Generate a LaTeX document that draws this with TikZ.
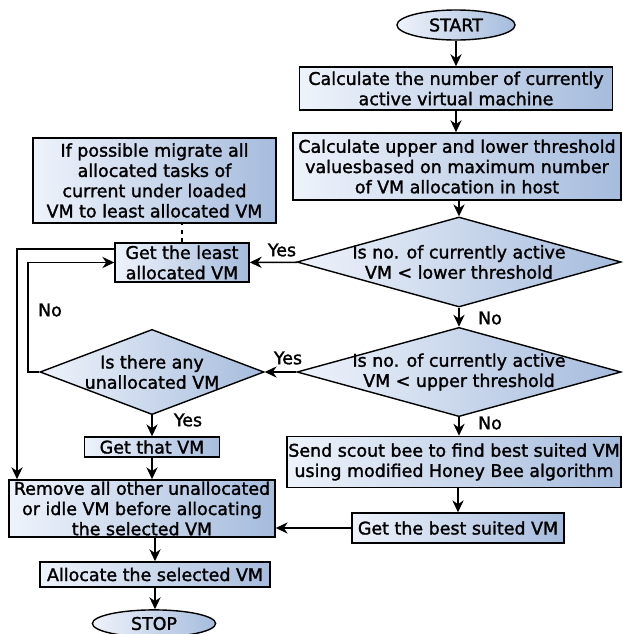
\documentclass[tikz,border=0pt]{standalone}
\usepackage{fontspec}
\setmainfont{DejaVu Sans}[RawFeature={embolden=1.6}]
\usetikzlibrary{arrows.meta}
\usetikzlibrary{shapes.geometric}
\definecolor{paleblue}{RGB}{238,243,251}
\definecolor{steelfill}{RGB}{166,188,221}

\begin{document}
\begin{tikzpicture}[x=0.025cm, y=-0.025cm,
    every node/.style={font=\fontsize{12.4}{14.4}\selectfont, align=center},
    procbox/.style={draw, line width=1pt, left color=paleblue, right color=steelfill, inner sep=0pt},
    decision/.style={procbox, diamond},
    terminal/.style={procbox, ellipse},
    flow/.style={line width=1pt, -{Stealth[length=8.5pt,width=8pt]}}]
  \useasboundingbox (0,0) rectangle (623,634);

  % Main column
  \node (start)[terminal, minimum width=2.95cm, minimum height=0.75cm] at (456,25) {START};
  \node (count)[procbox, minimum width=7.83cm, minimum height=1.08cm] at (456,88.5) {Calculate the number of currently\\active virtual machine};
  \node (thresh)[procbox, minimum width=8.2cm, minimum height=1.68cm] at (457,166.5) {Calculate upper and lower threshold\\valuesbased on maximum number\\of VM allocation in host};
  \node (lower)[decision, minimum width=8.1cm, minimum height=2.25cm,
    label={center:{Is no. of currently active\\VM < lower threshold}}] at (459,262) {};
  \node (upper)[decision, minimum width=8.1cm, minimum height=2.23cm,
    label={center:{Is no. of currently active\\VM < upper threshold}}] at (459,372) {};
  \node (scout)[procbox, minimum width=8.35cm, minimum height=1.28cm] at (454,462) {Send scout bee to find best suited VM\\using modified Honey Bee algorithm};
  \node (best)[procbox, minimum width=5.3cm, minimum height=0.75cm] at (458,528) {Get the best suited VM};

  % Left column
  \node (migrate)[procbox, minimum width=6.08cm, minimum height=2.13cm] at (154.5,180.5) {If possible migrate all\\allocated tasks of\\current under loaded\\VM to least allocated VM};
  \node (least)[procbox, minimum width=3.35cm, minimum height=0.98cm] at (182,262.5) {Get the least\\allocated VM};
  \node (any)[decision, minimum width=5.6cm, minimum height=2.13cm,
    label={center:{Is there any\\unallocated VM}}] at (152,372) {};
  \node (that)[procbox, minimum width=3.38cm, minimum height=0.5cm] at (152,447) {Get that VM};
  \node (remove)[procbox, minimum width=6.65cm, minimum height=1.43cm] at (142,508.5) {Remove all other unallocated\\or idle VM before allocating\\the selected VM};
  \node (alloc)[procbox, minimum width=5.75cm, minimum height=0.63cm] at (155,574.5) {Allocate the selected VM};
  \node (stop)[terminal, minimum width=3.08cm, minimum height=0.68cm] at (154,623.5) {STOP};

  % Branch labels
  \node (yes1) at (282,250) {Yes};
  \node (no1) at (490,318) {No};
  \node (yes2) at (288,358) {Yes};
  \node (no2) at (490,423) {No};
  \node (yes3) at (188,420) {Yes};
  \node (no3) at (50,310) {No};

  \draw[flow] (start) -- (start |- count.north);
  \draw[flow] (count) -- (count |- thresh.north);
  \draw[flow] (thresh.south -| lower) -- (lower.north);
  \draw[flow] (lower) -- (least);
  \draw[flow] (lower) -- (upper);
  \draw[flow] (upper) -- (any);
  \draw[flow] (upper.south) -- (upper.south |- scout.north);
  \draw[flow] (scout.south -| best) -- (best.north);
  \draw[flow] (best) -- (best -| remove.east);
  \draw[flow] (any) -- (any |- that.north);
  \draw[flow] (that) -- (that |- remove.north);
  \draw[flow] (alloc |- remove.south) -- (alloc);
  \draw[flow] (alloc) -- (alloc |- stop.north);
  \draw[dashed, line width=1pt] (least.north) -- (least.north |- migrate.south);

  % Loops on the left
  \coordinate (outer) at (17,249);
  \coordinate (inner) at (28,372);
  \draw[flow] (least.west |- outer) -- (outer) -- (outer |- remove.north);
  \draw[flow] (any.west) -- (inner) -- (inner |- least.west) -- (least.west);
\end{tikzpicture}
\end{document}
